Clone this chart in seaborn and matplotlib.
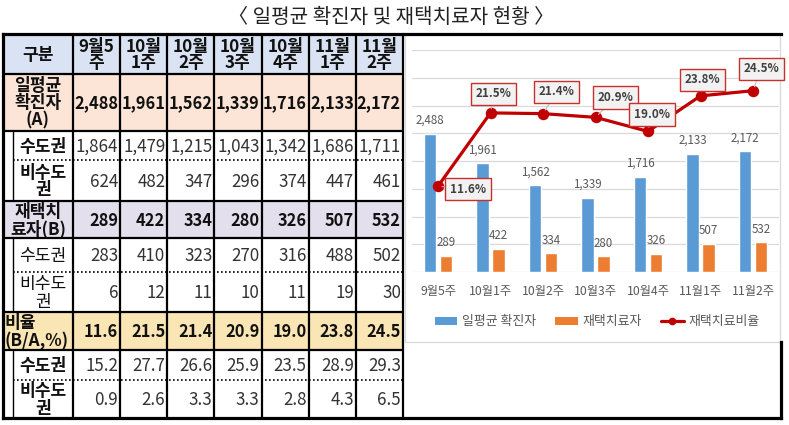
import numpy as np
import pandas as pd
import matplotlib
matplotlib.use("Agg")
import matplotlib.pyplot as plt
from matplotlib.patches import Rectangle, Patch
from matplotlib.lines import Line2D
import seaborn as sns

sns.set_theme(style="white")
plt.rcParams['font.family'] = ['Noto Sans CJK KR', 'DejaVu Sans']

# ---------------- data ----------------
title = "〈 일평균 확진자 및 재택치료자 현황 〉"
header_labels = ["9월5\n주", "10월\n1주", "10월\n2주", "10월\n3주", "10월\n4주", "11월\n1주", "11월\n2주"]
weeks = ["9월5주", "10월1주", "10월2주", "10월3주", "10월4주", "11월1주", "11월2주"]
daily_total = [2488, 1961, 1562, 1339, 1716, 2133, 2172]
daily_capital = [1864, 1479, 1215, 1043, 1342, 1686, 1711]
daily_noncap = [624, 482, 347, 296, 374, 447, 461]
home_total = [289, 422, 334, 280, 326, 507, 532]
home_capital = [283, 410, 323, 270, 316, 488, 502]
home_noncap = [6, 12, 11, 10, 11, 19, 30]
ratio_total = [11.6, 21.5, 21.4, 20.9, 19.0, 23.8, 24.5]
ratio_capital = [15.2, 27.7, 26.6, 25.9, 23.5, 28.9, 29.3]
ratio_noncap = [0.9, 2.6, 3.3, 3.3, 2.8, 4.3, 6.5]
series_names = ["일평균 확진자", "재택치료자", "재택치료비율"]

# ---------------- figure ----------------
W, H = 789, 425
fig = plt.figure(figsize=(W / 100, H / 100), dpi=100)
fig.patch.set_facecolor("white")

bg = fig.add_axes([0, 0, 1, 1])
bg.set_xlim(0, W)
bg.set_ylim(H, 0)
bg.axis("off")

bg.text(391, 17, title, ha="center", va="center", fontsize=14.5, color="#222222")

# table layout
row_edges = [34, 74, 131, 160, 201, 238, 272, 312, 350, 380, 418]
cw = (403 - 73) / 7
col_edges = [3, 73] + [73 + cw * (k + 1) for k in range(7)]
x_left, x_sub, x_lab, x_right = 3, 13, 73, 403

c_head = "#DAE3F3"
c_a = "#FCE4D6"
c_b = "#E4DFEC"
c_r = "#FAE5B4"

def fmt_int(v):
    return f"{v:,}"

def fmt_f(v):
    return f"{v:.1f}"

rows = [
    # label, kind, values, formatter, label bold, value bold, fill
    ("구분", "head", header_labels, None, True, True, c_head),
    ("일평균\n확진자\n(A)", "main", daily_total, fmt_int, True, True, c_a),
    ("수도권", "sub", daily_capital, fmt_int, True, False, None),
    ("비수도\n권", "sub", daily_noncap, fmt_int, True, False, None),
    ("재택치\n료자(B)", "main", home_total, fmt_int, True, True, c_b),
    ("수도권", "sub", home_capital, fmt_int, False, False, None),
    ("비수도\n권", "sub", home_noncap, fmt_int, False, False, None),
    ("비율\n(B/A,%)", "ratio", ratio_total, fmt_f, True, True, c_r),
    ("수도권", "sub", ratio_capital, fmt_f, True, False, None),
    ("비수도\n권", "sub", ratio_noncap, fmt_f, True, False, None),
]

lab_fs = 12.3
num_fs_bold = 11.8
num_fs_reg = 12.2
for r, (lab, kind, vals, fmt, lb, vb, fill) in enumerate(rows):
    y0, y1 = row_edges[r], row_edges[r + 1]
    yc = (y0 + y1) / 2
    if fill:
        bg.add_patch(Rectangle((x_left, y0), x_right - x_left, y1 - y0,
                               facecolor=fill, edgecolor="none", zorder=1))
    if kind == "sub":
        bg.text((x_sub + x_lab) / 2, yc + 1, lab, ha="center", va="center",
                fontsize=lab_fs, fontweight="bold" if lb else "normal",
                color="#111111", linespacing=0.95, zorder=3)
    elif kind == "ratio":
        bg.text(x_left + 2, yc + 1, lab, ha="left", va="center",
                fontsize=lab_fs, fontweight="bold", color="#111111",
                linespacing=0.95, multialignment="left", zorder=3)
    else:
        bg.text((x_left + x_lab) / 2, yc + 1, lab, ha="center", va="center",
                fontsize=lab_fs, fontweight="bold", color="#111111",
                linespacing=0.95, zorder=3)
    for k, v in enumerate(vals):
        cx0, cx1 = col_edges[k + 1], col_edges[k + 2]
        if kind == "head":
            bg.text((cx0 + cx1) / 2, yc + 1, v, ha="center", va="center",
                    fontsize=lab_fs, fontweight="bold", color="#111111",
                    linespacing=0.9, zorder=3)
        else:
            bg.text(cx1 - 2, yc + 1, fmt(v), ha="right", va="center",
                    fontsize=num_fs_bold if vb else num_fs_reg,
                    fontweight="bold" if vb else "normal",
                    color="#111111" if vb else "#333333", zorder=3)

# grid lines of the table
lw_in = 1.6
for ye in [74, 131, 201, 238, 312, 350]:
    bg.plot([x_left, x_right], [ye, ye], color="black", lw=lw_in, zorder=4,
            solid_capstyle="butt")
for ye in [160, 272, 380]:
    bg.plot([x_sub, x_right], [ye, ye], color="black", lw=1.2, zorder=4,
            linestyle=(0, (1, 1.4)))
for xe in col_edges[1:-1]:
    bg.plot([xe, xe], [34, 418], color="black", lw=lw_in, zorder=4)
bg.plot([x_right, x_right], [34, 418], color="black", lw=lw_in, zorder=4)
for (a, b) in [(131, 201), (238, 312), (350, 418)]:
    bg.plot([x_sub, x_sub], [a, b], color="black", lw=1.0, zorder=4)

# chart frame (light gray) and outer border
bg.add_patch(Rectangle((405, 34), 375, 308, facecolor="white",
                       edgecolor="#D9D9D9", lw=0.9, zorder=0.5))
lw_out = 2.3
bg.plot([3, 781], [34, 34], color="black", lw=lw_out, zorder=5, solid_capstyle="projecting")
bg.plot([3, 3], [34, 418], color="black", lw=lw_out, zorder=5, solid_capstyle="projecting")
bg.plot([3, 781], [418, 418], color="black", lw=lw_out, zorder=5, solid_capstyle="projecting")
bg.plot([781, 781], [342, 418], color="black", lw=lw_out, zorder=5, solid_capstyle="projecting")

# ---------------- chart ----------------
blue = "#5B9BD5"
orange = "#ED7D31"
red = "#C00000"
gray_txt = "#595959"

px_l, px_r = 411.75, 779.25
px_top, px_base = 50, 272
ax = fig.add_axes([px_l / W, (H - px_base) / H, (px_r - px_l) / W, (px_base - px_top) / H])
ax.set_facecolor("none")

df = pd.DataFrame({
    "주차": weeks * 2,
    "값": daily_total + home_total,
    "구분": [series_names[0]] * len(weeks) + [series_names[1]] * len(weeks),
})
sns.barplot(data=df, x="주차", y="값", hue="구분", palette=[blue, orange],
            width=0.61, gap=0.22, ax=ax, legend=False, saturation=1)
for cont in ax.containers:
    ax.bar_label(cont, labels=[f"{v:,.0f}" for v in cont.datavalues],
                 padding=5, fontsize=8.3, color=gray_txt)

ax.set_ylim(0, 4000)
ax.set_yticks(np.arange(0, 4001, 500))
ax.yaxis.grid(True, color="#D9D9D9", lw=0.9)
ax.set_axisbelow(True)
ax.set_yticklabels([])
ax.tick_params(axis="y", length=0)
ax.tick_params(axis="x", length=0, pad=9, labelsize=8.8, labelcolor=gray_txt)
ax.set_xlabel("")
ax.set_ylabel("")
for s in ax.spines.values():
    s.set_visible(False)

ax2 = ax.twinx()
sns.pointplot(x=weeks, y=ratio_total, ax=ax2, color=red, markers="o",
              markersize=6.5, linewidth=2.3, errorbar=None)
ax2.set_ylim(0, 30)
ax2.set_yticks([])
ax2.set_ylabel("")
ax2.set_xlabel("")
for s in ax2.spines.values():
    s.set_visible(False)
ax.set_xlim(-0.5, len(weeks) - 0.5)
ax2.set_xlim(-0.5, len(weeks) - 0.5)
ax2.tick_params(axis="x", length=0)

offsets = [(21.6, -2.2), (2.2, 13.7), (10, 15.8), (14.4, 14.4), (2.9, 12.2), (1.4, 11.5), (5.8, 15.8)]
for i, v in enumerate(ratio_total):
    ax2.annotate(f"{v:.1f}%", xy=(i, v), xytext=offsets[i], textcoords="offset points",
                 ha="center", va="center", fontsize=8.4, fontweight="bold", color="#404040",
                 bbox=dict(boxstyle="square,pad=0.4", fc="#F2F2F2", ec="#C9302C", lw=1.0),
                 arrowprops=dict(arrowstyle="-", color="#BFBFBF", lw=0.8, shrinkA=0, shrinkB=3),
                 zorder=6, annotation_clip=False)

handles = [Patch(facecolor=blue, edgecolor="none"),
           Patch(facecolor=orange, edgecolor="none"),
           Line2D([0], [0], color=red, lw=2.3, marker="o", markersize=4.5)]
leg = fig.legend(handles, series_names, loc="center", ncol=3,
                 bbox_to_anchor=(597 / W, 1 - 322 / H), frameon=False,
                 fontsize=9.3, handlelength=1.75, handleheight=0.6,
                 handletextpad=0.35, columnspacing=1.5)
for t in leg.get_texts():
    t.set_color(gray_txt)

fig.savefig("out.png", dpi=100, facecolor="white")
